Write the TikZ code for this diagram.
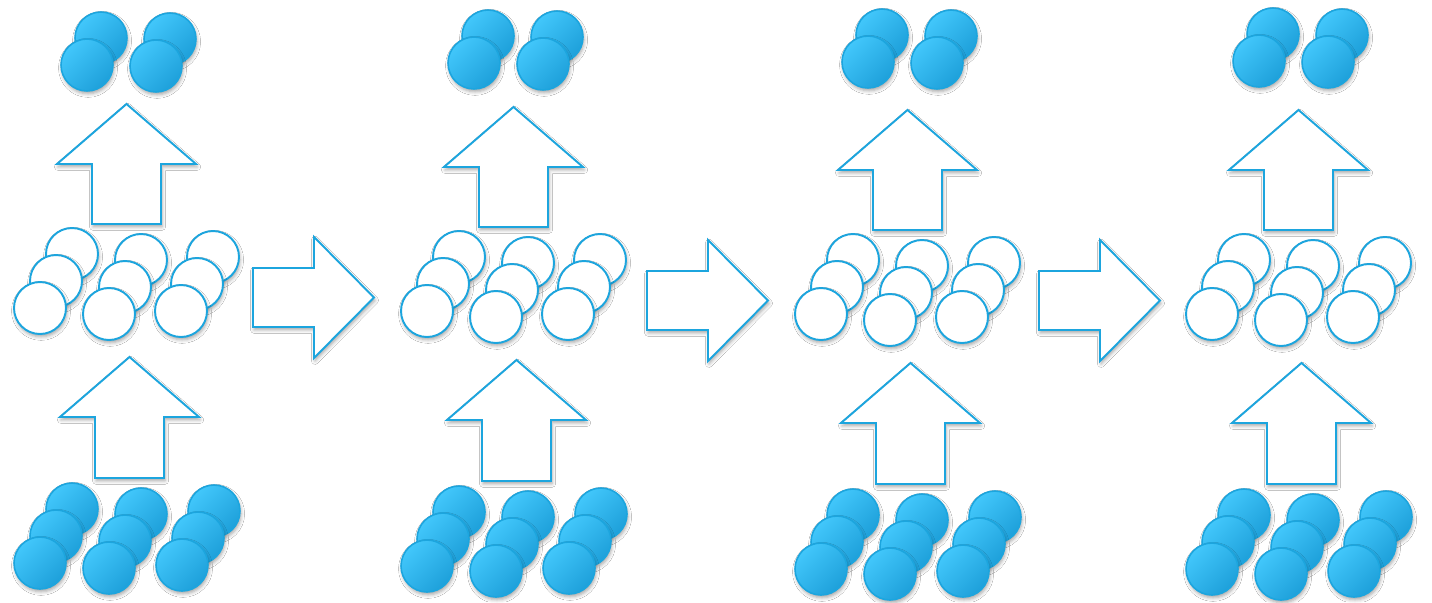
\documentclass[tikz,border=0pt]{standalone}
\usetikzlibrary{shadows.blur}

\definecolor{skyline}{RGB}{28,165,222}
\definecolor{skylight}{RGB}{66,199,251}
\definecolor{skydark}{RGB}{30,160,218}

\tikzset{
	softshadow/.style={blur shadow={shadow xshift=0.6pt, shadow yshift=-1.6pt, shadow blur radius=2pt, shadow opacity=35}},
	ball/.style={draw=skyline, line width=0.9pt, top color=skylight, bottom color=skydark, shading angle=45, softshadow},
	ring/.style={draw=skyline, line width=1.1pt, fill=white, softshadow},
	blockarrow/.style={draw=skyline, line width=1.1pt, fill=white, line join=miter, softshadow}
}

\begin{document}
\begin{tikzpicture}[x=0.02cm, y=-0.02cm]

	\path[use as bounding box, fill=white] (0,0) rectangle (1432,602);

	% quattro colonne: spostamento x, y in alto, y nel resto
	\foreach \cx/\ty/\my in {0/0/0, 387/-2/3, 781/-3/6, 1172/-4/6} {

		% coppie blu in alto
		\foreach \fx/\fy in {87/65, 156/66} {
			\foreach \k in {1,0}
				\draw[ball] (\cx+\fx+14*\k, \ty+\fy-27*\k) circle (26);
		}

		% freccia verso l'alto
		\draw[blockarrow] (\cx+126.5,\my+104) -- ++(69.5,60) -- ++(-35,0) -- ++(0,60)
			-- ++(-69,0) -- ++(0,-60) -- ++(-35,0) -- cycle;

		% pile bianche al centro
		\foreach \fx/\fy in {40/308, 109/314, 181/311} {
			\foreach \k in {2,1,0}
				\draw[ring] (\cx+\fx+16*\k, \my+\fy-27*\k) circle (26);
		}

		% freccia dal basso
		\draw[blockarrow] (\cx+129.5,\my+357) -- ++(69.5,60) -- ++(-35,0) -- ++(0,61)
			-- ++(-69,0) -- ++(0,-61) -- ++(-35,0) -- cycle;

		% pile blu in basso
		\foreach \fx/\fy in {40/563, 109/568, 182/565} {
			\foreach \k in {2,1,0}
				\draw[ball] (\cx+\fx+16*\k, \my+\fy-27*\k) circle (26);
		}
	}

	% frecce verso destra tra le colonne
	\foreach \rx/\ry in {0/0, 394/3, 786/3}
		\draw[blockarrow] (\rx+253,\ry+268) -- ++(61,0) -- ++(0,-31) -- ++(60,60.5)
			-- ++(-60,60.5) -- ++(0,-31) -- ++(-61,0) -- cycle;

\end{tikzpicture}
\end{document}
